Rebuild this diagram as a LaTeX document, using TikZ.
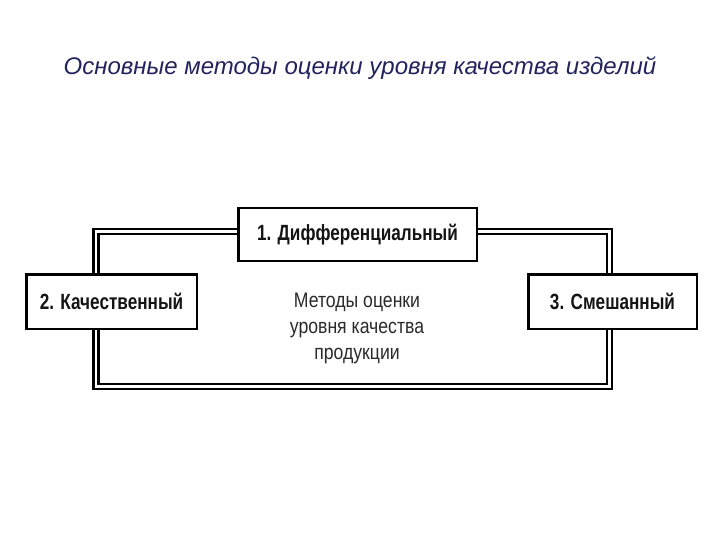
\documentclass[tikz,border=0pt]{standalone}
\usepackage{fontspec}
\setmainfont{Liberation Sans}
\newfontfamily\boxfont[FakeStretch=0.78]{Liberation Sans}
\newfontfamily\narrowfont[FakeStretch=0.84]{Liberation Sans}
\definecolor{titleblue}{HTML}{23235E}
\definecolor{darktext}{HTML}{141414}
\definecolor{centertext}{HTML}{2A2A2A}
\begin{document}
\begin{tikzpicture}[x=1pt,y=-1pt,
  methodbox/.style={draw=black, line width=2.5pt, fill=white, inner sep=0pt,
    font=\boxfont\bfseries\fontsize{22}{26}\selectfont, text=darktext},
  frameline/.style={draw=black, line width=2.4pt, double=white, double distance=2.4pt}]
\useasboundingbox (0,0) rectangle (720,540);
\node[font=\itshape\fontsize{24}{28}\selectfont, text=titleblue] (title) at (360,68)
  {Основные методы оценки уровня качества изделий};
\coordinate (tl) at (96,231.5);
\coordinate (br) at (609.5,386.5);
\draw[frameline] (tl) rectangle (br);
\node[methodbox, minimum width=238.5pt, minimum height=52.5pt] (m1) at (357.5,234.5) {1. Дифференциальный};
\node[methodbox, minimum width=170.5pt, minimum height=54.5pt] (m2) at (111.5,301.5) {2. Качественный};
\node[methodbox, minimum width=168.5pt, minimum height=54.5pt] (m3) at (612.5,301.5) {3. Смешанный};
\node[align=center, font=\narrowfont\fontsize{21}{26}\selectfont, text=centertext] (center) at (357,328.5)
  {Методы оценки\\уровня качества\\продукции};
\end{tikzpicture}
\end{document}
